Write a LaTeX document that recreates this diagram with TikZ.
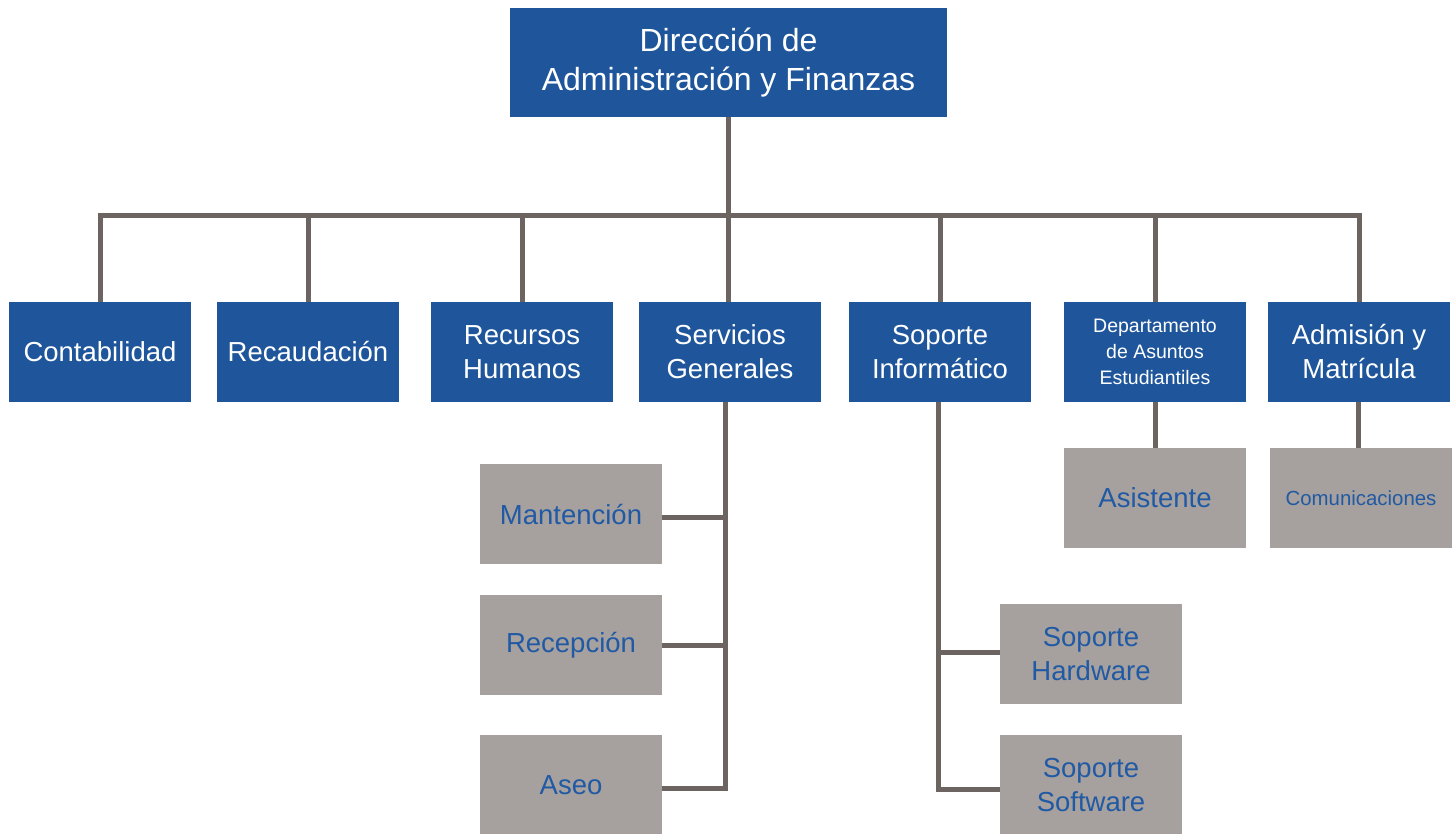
\documentclass[tikz,border=0pt]{standalone}
\usepackage{fontspec}
\setmainfont{Liberation Sans}
\definecolor{boxblue}{HTML}{1F569B}
\definecolor{boxgray}{HTML}{A6A19E}
\definecolor{linegray}{HTML}{6B6460}
\definecolor{txtblue}{HTML}{2059A4}
\tikzset{
  bluebox/.style={fill=boxblue, text=white, align=center, inner sep=0pt,
    minimum width=182pt, minimum height=100pt, font=\fontsize{27.5}{34}\selectfont},
  graybox/.style={fill=boxgray, text=txtblue, align=center, inner sep=0pt,
    minimum width=182pt, minimum height=100pt, font=\fontsize{27.5}{34}\selectfont},
  conn/.style={draw=linegray, line width=5pt}
}
\begin{document}
\begin{tikzpicture}[x=1pt,y=-1pt]
\useasboundingbox (0,0) rectangle (1455,833);
% top
\node[bluebox, minimum width=437pt, minimum height=109pt, font=\fontsize{32}{39}\selectfont] (top) at (728.5,62.5) {Dirección de\\Administración y Finanzas};
% row
\node[bluebox] (cont) at (100,352) {Contabilidad};
\node[bluebox] (reca) at (308,352) {Recaudación};
\node[bluebox] (rrhh) at (522,352) {Recursos\\Humanos};
\node[bluebox] (serv) at (730,352) {Servicios\\Generales};
\node[bluebox] (sopi) at (940,352) {Soporte\\Informático};
\node[bluebox, font=\fontsize{19.5}{26}\selectfont] (dept) at (1155,352) {Departamento\\de Asuntos\\Estudiantiles};
\node[bluebox] (admi) at (1359,352) {Admisión y\\Matrícula};
% subs
\node[graybox] (mant) at (571,514) {Mantención};
\node[graybox] (rece) at (571,645) {Recepción};
\node[graybox] (aseo) at (571,785) {Aseo};
\node[graybox] (shw) at (1091,654) {Soporte\\Hardware};
\node[graybox] (ssw) at (1091,785) {Soporte\\Software};
\node[graybox] (asis) at (1155,498) {Asistente};
\node[graybox, font=\fontsize{20.4}{24}\selectfont] (comu) at (1361,498) {Comunicaciones};
% connectors
\coordinate (bus) at (0,215);
\draw[conn] (top.south) -- (top.south |- bus);
\draw[conn] (cont.north) -- (cont.north |- bus) -- (admi.north |- bus) -- (admi.north);
\foreach \n in {reca,rrhh,sopi,dept}{
  \draw[conn] (\n.north) -- (\n.north |- bus);
}
\draw[conn] ([xshift=-1.5pt]serv.north) -- ([xshift=-1.5pt]serv.north |- bus);
\coordinate (sv) at (725,402);
\draw[conn] (sv) -- (sv |- 0,788) -- (aseo.east |- 0,788);
\draw[conn] (mant.east |- 0,517) -- (sv |- 0,517);
\draw[conn] (rece.east) -- (sv |- rece.east);
\coordinate (si) at (938,402);
\draw[conn] (si) -- (si |- 0,789) -- (ssw.west |- 0,789);
\draw[conn] (si |- 0,652) -- (shw.west |- 0,652);
\draw[conn] (dept.south) -- (asis.north);
\draw[conn] ([xshift=-1pt]admi.south) -- ([xshift=-1pt]admi.south |- comu.north);
\end{tikzpicture}
\end{document}
